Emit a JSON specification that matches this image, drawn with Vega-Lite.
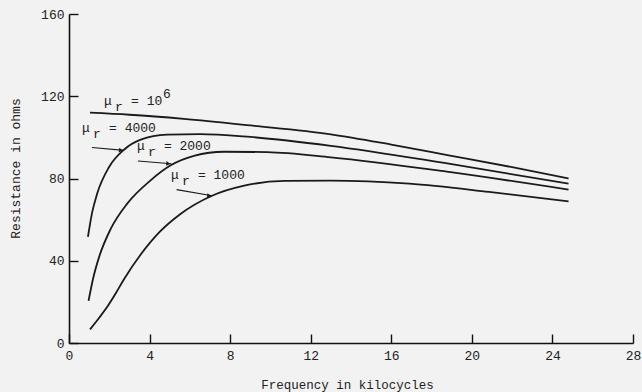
{
  "$schema": "https://vega.github.io/schema/vega-lite/v6.json",
  "width": 564,
  "height": 329,
  "autosize": "none",
  "padding": {"left": 69, "top": 14, "right": 9, "bottom": 49},
  "background": "#f2f2f2",
  "config": {
    "view": {"stroke": null},
    "font": "Liberation Mono",
    "axis": {
      "grid": false,
      "domainColor": "#111111",
      "domainWidth": 1.6,
      "tickColor": "#111111",
      "tickWidth": 1.4,
      "tickSize": -9,
      "labelFont": "Liberation Mono",
      "labelFontSize": 13,
      "labelColor": "#222222",
      "titleFont": "Liberation Mono",
      "titleFontWeight": "normal",
      "titleColor": "#222222"
    }
  },
  "datasets": {
    "curves": [
      {"mu": "1e6", "f": 1.04, "R": 112},
      {"mu": "1e6", "f": 3, "R": 111},
      {"mu": "1e6", "f": 5.7, "R": 109},
      {"mu": "1e6", "f": 9, "R": 105.8},
      {"mu": "1e6", "f": 13, "R": 101.5},
      {"mu": "1e6", "f": 16, "R": 96.5},
      {"mu": "1e6", "f": 18.85, "R": 91.3},
      {"mu": "1e6", "f": 22, "R": 85.5},
      {"mu": "1e6", "f": 24.8, "R": 80},
      {"mu": "4000", "f": 0.94, "R": 51.6},
      {"mu": "4000", "f": 1.15, "R": 63.5},
      {"mu": "4000", "f": 1.4, "R": 72.7},
      {"mu": "4000", "f": 1.99, "R": 85.6},
      {"mu": "4000", "f": 2.73, "R": 94},
      {"mu": "4000", "f": 3.56, "R": 98.9},
      {"mu": "4000", "f": 4.88, "R": 101.3},
      {"mu": "4000", "f": 6.5, "R": 101.6},
      {"mu": "4000", "f": 9, "R": 100.2},
      {"mu": "4000", "f": 13, "R": 95.9},
      {"mu": "4000", "f": 18.85, "R": 87.2},
      {"mu": "4000", "f": 24.8, "R": 77.5},
      {"mu": "2000", "f": 0.97, "R": 20.5},
      {"mu": "2000", "f": 1.2, "R": 31.5},
      {"mu": "2000", "f": 1.5, "R": 42},
      {"mu": "2000", "f": 2.07, "R": 55.5},
      {"mu": "2000", "f": 2.89, "R": 67.8},
      {"mu": "2000", "f": 4.05, "R": 79.1},
      {"mu": "2000", "f": 5.05, "R": 86.4},
      {"mu": "2000", "f": 6.2, "R": 91},
      {"mu": "2000", "f": 7.7, "R": 93},
      {"mu": "2000", "f": 9.84, "R": 92.8},
      {"mu": "2000", "f": 13, "R": 90.3},
      {"mu": "2000", "f": 18.85, "R": 83.2},
      {"mu": "2000", "f": 24.8, "R": 74.6},
      {"mu": "1000", "f": 1.04, "R": 6.6},
      {"mu": "1000", "f": 1.5, "R": 12.3},
      {"mu": "1000", "f": 1.9, "R": 17.6},
      {"mu": "1000", "f": 2.3, "R": 23.8},
      {"mu": "1000", "f": 2.73, "R": 31},
      {"mu": "1000", "f": 3.56, "R": 43},
      {"mu": "1000", "f": 4.5, "R": 54},
      {"mu": "1000", "f": 5.5, "R": 62.5},
      {"mu": "1000", "f": 7.1, "R": 71.6},
      {"mu": "1000", "f": 8.7, "R": 76.5},
      {"mu": "1000", "f": 10.7, "R": 78.8},
      {"mu": "1000", "f": 13, "R": 79},
      {"mu": "1000", "f": 16.9, "R": 77.5},
      {"mu": "1000", "f": 20.85, "R": 73.5},
      {"mu": "1000", "f": 24.8, "R": 68.9}
    ],
    "arrows": [
      {"id": "4000", "pt": "start", "f": 1.14, "R": 95.1},
      {"id": "4000", "pt": "end", "f": 2.73, "R": 93.7},
      {"id": "2000", "pt": "start", "f": 3.42, "R": 88.5},
      {"id": "2000", "pt": "end", "f": 5.08, "R": 87.2},
      {"id": "1000", "pt": "start", "f": 5.34, "R": 74.6},
      {"id": "1000", "pt": "end", "f": 7.11, "R": 71.6}
    ],
    "labels": [
      {"mu": "1e6", "f": 1.74, "R": 117.5, "main": "= 10", "sup": "6"},
      {"mu": "4000", "f": 0.65, "R": 104.4, "main": "= 4000", "sup": ""},
      {"mu": "2000", "f": 3.37, "R": 95.6, "main": "= 2000", "sup": ""},
      {"mu": "1000", "f": 5.06, "R": 81.6, "main": "= 1000", "sup": ""}
    ]
  },
  "encoding": {
    "x": {
      "field": "f",
      "type": "quantitative",
      "scale": {"domain": [0, 28], "nice": false, "zero": false},
      "axis": {
        "values": [0, 4, 8, 12, 16, 20, 24, 28],
        "title": "Frequency in kilocycles",
        "titleFontSize": 12.5,
        "labelPadding": 15,
        "labelFlush": false,
        "titleX": 278,
        "titleY": 45,
        "titleBaseline": "alphabetic"
      }
    },
    "y": {
      "field": "R",
      "type": "quantitative",
      "scale": {"domain": [0, 160], "nice": false},
      "axis": {
        "values": [0, 40, 80, 120, 160],
        "title": "Resistance in ohms",
        "titleFontSize": 13,
        "labelPadding": 14,
        "titleAngle": -90,
        "titleX": -54,
        "titleY": 154,
        "titleAlign": "center",
        "titleBaseline": "middle"
      }
    }
  },
  "layer": [
    {
      "data": {"name": "curves"},
      "mark": {"type": "line", "color": "#1a1a1a", "strokeWidth": 1.8, "interpolate": "monotone"},
      "encoding": {"detail": {"field": "mu"}}
    },
    {
      "data": {"name": "arrows"},
      "mark": {"type": "line", "color": "#1a1a1a", "strokeWidth": 1.1},
      "encoding": {"detail": {"field": "id"}}
    },
    {
      "data": {"name": "arrows"},
      "transform": [{"filter": "datum.pt === 'end'"}],
      "mark": {"type": "point", "shape": "triangle-right", "filled": true, "size": 22, "angle": 7, "color": "#1a1a1a", "opacity": 1, "xOffset": -3}
    },
    {
      "data": {"name": "labels"},
      "mark": {"type": "text", "align": "left", "baseline": "middle", "fontSize": 13, "color": "#222222", "font": "Liberation Mono"},
      "encoding": {"text": {"value": "μ"}}
    },
    {
      "data": {"name": "labels"},
      "mark": {"type": "text", "align": "left", "baseline": "middle", "fontSize": 13, "color": "#222222", "font": "Liberation Mono", "dx": 11, "dy": 6},
      "encoding": {"text": {"value": "r"}}
    },
    {
      "data": {"name": "labels"},
      "mark": {"type": "text", "align": "left", "baseline": "middle", "fontSize": 13, "color": "#222222", "font": "Liberation Mono", "dx": 27},
      "encoding": {"text": {"field": "main"}}
    },
    {
      "data": {"name": "labels"},
      "mark": {"type": "text", "align": "left", "baseline": "middle", "fontSize": 13, "color": "#222222", "font": "Liberation Mono", "dx": 59, "dy": -7},
      "encoding": {"text": {"field": "sup"}}
    }
  ]
}
